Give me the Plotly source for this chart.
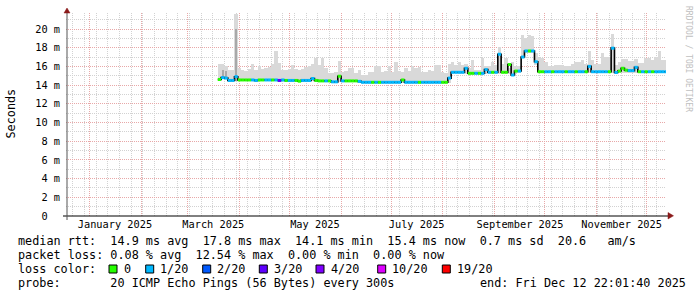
import plotly.graph_objects as go
import pandas as pd

# ---------------- data ----------------
range_start = "2024-12-17 22:01:40"
range_end = "2025-12-12 22:01:40"
first_sample = "2025-03-19 00:00"
sample_step_days = 2

median_ms = [
    14.6, 14.8, 14.75, 14.5, 14.5, 14.9, 14.55, 14.55, 14.55, 14.55,
    14.55, 14.5, 14.55, 14.55, 14.55, 14.55, 14.55, 14.55, 14.5, 14.55,
    14.5, 14.5, 14.5, 14.5, 14.42, 14.5, 14.5, 14.5, 14.7, 14.5,
    14.45, 14.45, 14.45, 14.45, 14.35, 14.35, 14.95, 14.45, 14.45, 14.45,
    14.45, 14.45, 14.4, 14.3, 14.3, 14.3, 14.3, 14.3, 14.3, 14.3,
    14.3, 14.3, 14.3, 14.3, 14.3, 14.55, 14.3, 14.3, 14.3, 14.3,
    14.3, 14.3, 14.3, 14.3, 14.3, 14.3, 14.3, 14.3, 14.3, 14.75,
    15.37, 15.37, 15.37, 15.37, 15.8, 15.26, 15.26, 15.26, 15.26, 15.26,
    15.65, 15.37, 15.37, 15.37, 17.3, 15.37, 15.37, 16.2, 15.08, 15.5,
    15.5, 17.0, 17.65, 17.65, 17.65, 16.5, 15.43, 15.43, 15.43, 15.43,
    15.43, 15.43, 15.43, 15.43, 15.43, 15.43, 15.43, 15.43, 15.43, 15.43,
    15.43, 16.0, 15.43, 15.43, 15.43, 15.43, 15.43, 15.43, 17.95, 15.35,
    15.5, 15.8, 15.6, 15.55, 15.55, 15.9, 15.43, 15.43, 15.43, 15.43,
    15.43, 15.43, 15.43, 15.43, 15.43,
]

smoke_top_ms = [
    16.3, 16.3, 16.0, 15.6, 15.6, 21.6, 15.8, 15.6, 15.5, 15.7,
    16.3, 15.6, 16.0, 15.7, 15.8, 15.9, 16.3, 17.6, 16.4, 15.6,
    15.6, 15.7, 16.1, 15.7, 15.6, 15.7, 15.9, 16.0, 16.3, 16.9,
    16.2, 16.9, 15.8, 15.3, 15.3, 15.4, 16.6, 15.4, 15.5, 15.8,
    15.8, 15.3, 15.6, 15.1, 15.1, 15.4, 15.4, 16.0, 16.0, 15.4,
    15.5, 16.0, 15.4, 16.5, 15.5, 15.4, 15.8, 15.5, 16.0, 15.8,
    15.9, 15.4, 15.4, 15.6, 15.5, 16.15, 16.1, 15.4, 15.3, 16.3,
    16.5, 16.2, 16.5, 16.2, 16.3, 15.8, 16.7, 15.6, 15.6, 16.9,
    16.0, 16.0, 16.5, 16.2, 18.1, 16.3, 16.9, 15.8, 16.5, 16.0,
    16.0, 19.4, 19.0, 19.4, 19.2, 17.4, 16.9, 16.9, 16.5, 16.0,
    16.0, 16.2, 16.2, 16.15, 16.0, 16.0, 16.3, 16.5, 16.5, 16.7,
    16.3, 17.6, 16.7, 16.3, 16.3, 17.4, 17.0, 17.0, 19.5, 16.15,
    16.5, 16.8, 16.8, 16.6, 16.6, 16.8, 16.4, 16.4, 16.9, 16.9,
    16.7, 17.0, 17.6, 16.7, 16.7,
]

smoke_low_ms = [
    14.45, 14.6, 14.6, 14.35, 14.35, 14.4, 14.4, 14.4, 14.4, 14.4,
    14.4, 14.35, 14.4, 14.4, 14.4, 14.4, 14.4, 14.4, 14.35, 14.4,
    14.35, 14.35, 14.35, 14.35, 14.3, 14.35, 14.35, 14.35, 14.4, 14.35,
    14.3, 14.3, 14.3, 14.3, 14.2, 14.2, 14.3, 14.3, 14.3, 14.3,
    14.3, 14.3, 14.25, 14.15, 14.15, 14.15, 14.15, 14.15, 14.15, 14.15,
    14.15, 14.15, 14.15, 14.15, 14.15, 14.2, 14.15, 14.15, 14.15, 14.15,
    14.15, 14.15, 14.15, 14.15, 14.15, 14.15, 14.15, 14.15, 14.15, 14.2,
    15.2, 15.2, 15.2, 15.2, 15.2, 15.1, 15.1, 15.1, 15.1, 15.1,
    15.2, 15.2, 15.2, 15.2, 15.2, 15.2, 15.2, 15.2, 14.95, 15.3,
    15.3, 17.0, 17.4, 17.4, 17.4, 16.2, 15.28, 15.28, 15.28, 15.28,
    15.28, 15.28, 15.28, 15.28, 15.28, 15.28, 15.28, 15.28, 15.28, 15.28,
    15.28, 15.3, 15.28, 15.28, 15.28, 15.28, 15.28, 15.28, 15.3, 15.2,
    15.3, 15.3, 15.3, 15.3, 15.3, 15.3, 15.28, 15.28, 15.28, 15.28,
    15.28, 15.28, 15.28, 15.28, 15.28,
]

# dense (darker) smoke core, only where it is clearly visible: {sample index: top ms}
smoke_core_top_ms = {5: 20.0, 1: 15.6, 2: 15.5}

loss_idx = [
    0, 1, 1, 1, 1, 1, 0, 0, 0, 0,
    1, 1, 0, 0, 1, 1, 0, 1, 3, 1,
    0, 1, 1, 0, 0, 1, 1, 1, 1, 0,
    0, 0, 1, 0, 1, 1, 0, 1, 0, 0,
    0, 0, 1, 1, 1, 1, 0, 1, 0, 1,
    1, 1, 1, 1, 1, 0, 1, 1, 1, 1,
    0, 1, 1, 1, 1, 1, 1, 0, 0, 1,
    1, 1, 1, 1, 1, 0, 0, 1, 0, 1,
    1, 1, 0, 1, 1, 0, 0, 0, 1, 0,
    1, 1, 1, 0, 1, 1, 0, 0, 1, 1,
    0, 1, 1, 1, 0, 1, 1, 0, 1, 1,
    0, 1, 1, 1, 1, 1, 1, 0, 1, 1,
    0, 0, 0, 1, 1, 1, 0, 1, 0, 1,
    0, 1, 1, 1, 1,
]

loss_labels = ["0", "1/20", "2/20", "3/20", "4/20", "10/20", "19/20"]
loss_colors = ["#26ff00", "#00b8ff", "#0059ff", "#5e00ff", "#7e00ff", "#dd00ff", "#ff0000"]

y_tick_values_ms = [0, 2, 4, 6, 8, 10, 12, 14, 16, 18, 20]
x_label_texts = ["January 2025", "March 2025", "May 2025", "July 2025",
                 "September 2025", "November 2025"]
x_label_months = ["2025-01-01", "2025-03-01", "2025-05-01", "2025-07-01",
                  "2025-09-01", "2025-11-01"]

legend_line1 = "median rtt:  14.9 ms avg  17.8 ms max  14.1 ms min  15.4 ms now  0.7 ms sd  20.6   am/s"
legend_line2 = "packet loss: 0.08 % avg  12.54 % max  0.00 % min  0.00 % now"
legend_line3 = "loss color:"
legend_line4 = "probe:       20 ICMP Echo Pings (56 Bytes) every 300s"
legend_end = "end: Fri Dec 12 22:01:40 2025"

# ---------------- layout geometry ----------------
W, H = 697, 297
PL, PR, PT, PB = 66, 666, 13, 216   # plot area in pixels
Y_TOP_MS = (PB - PT) / 9.35         # ~21.7 ms at top

MONO = "DejaVu Sans Mono"
NB = "\u00a0"


def nb(s):
    return s.replace(" ", NB)


def px(x):
    return (x - PL) / (PR - PL)


def py(y):
    return (PB - y) / (PB - PT)


t0 = pd.Timestamp(range_start)
t1 = pd.Timestamp(range_end)
n = len(median_ms)
times = pd.date_range(first_sample, periods=n, freq=f"{sample_step_days}D")
step = pd.Timedelta(days=sample_step_days)
med = [v / 1000 for v in median_ms]

fig = go.Figure()

# smoke (outer, light)
fig.add_trace(go.Bar(
    x=[t + step / 2 for t in times],
    y=[(h - l) / 1000 for h, l in zip(smoke_top_ms, smoke_low_ms)],
    base=[l / 1000 for l in smoke_low_ms],
    width=[step.total_seconds() * 1000] * n,
    marker=dict(color="#d9d9d9", line=dict(width=0)),
    hoverinfo="skip", showlegend=False,
))

# smoke core (dense, darker)
core_idx = sorted(smoke_core_top_ms)
fig.add_trace(go.Bar(
    x=[times[i] + step / 2 for i in core_idx],
    y=[(smoke_core_top_ms[i] - smoke_low_ms[i]) / 1000 for i in core_idx],
    base=[smoke_low_ms[i] / 1000 for i in core_idx],
    width=[step.total_seconds() * 1000 * 0.6] * len(core_idx),
    marker=dict(color="#a8a8a8", line=dict(width=0)),
    hoverinfo="skip", showlegend=False,
))

# black median step line
fig.add_trace(go.Scatter(
    x=list(times) + [min(times[-1] + step, t1)],
    y=med + [med[-1]],
    mode="lines", line=dict(color="#000000", width=1.6, shape="hv"),
    hoverinfo="skip", showlegend=False,
))

# loss-coloured median segments
for k, col in enumerate(loss_colors):
    xs, ys = [], []
    for i in range(n):
        if loss_idx[i] == k:
            xs += [times[i], min(times[i] + step, t1), None]
            ys += [med[i], med[i], None]
    if xs:
        fig.add_trace(go.Scatter(
            x=xs, y=ys, mode="lines", line=dict(color=col, width=3),
            hoverinfo="skip", showlegend=False,
        ))

major_grid = "#e8a8a8"
minor_grid = "#d2d2d2"
dash = "1px,1px"

fig.update_layout(
    width=W, height=H,
    margin=dict(l=PL, r=W - PR, t=PT, b=H - PB),
    paper_bgcolor="white", plot_bgcolor="white",
    bargap=0, barmode="overlay", showlegend=False,
    font=dict(family=MONO, color="#000000"),
    xaxis=dict(
        type="date", range=[t0, t1],
        tickmode="array",
        tickvals=[pd.Timestamp(f"2025-{m:02d}-01") for m in range(1, 13)],
        ticktext=[""] * 12, showticklabels=False, ticks="",
        showgrid=True, gridcolor=major_grid, griddash=dash, gridwidth=1,
        minor=dict(tickmode="linear", tick0="2024-12-22", dtick=7 * 86400000,
                   showgrid=True, gridcolor=minor_grid, griddash=dash, gridwidth=1,
                   ticks=""),
        zeroline=False, showline=False, fixedrange=True,
    ),
    xaxis2=dict(
        type="date", range=[t0, t1], overlaying="x", side="bottom",
        tickmode="array",
        tickvals=[pd.Timestamp(m) + pd.Timedelta(days=15.3) for m in x_label_months],
        ticktext=x_label_texts, ticks="", showgrid=False, zeroline=False,
        tickfont=dict(family=MONO, size=10.3, color="#000000"),
        ticklabelstandoff=1,
    ),
    yaxis=dict(
        range=[0, Y_TOP_MS / 1000],
        tickmode="array",
        tickvals=[v / 1000 for v in y_tick_values_ms],
        ticktext=[("0" + NB + NB) if v == 0 else f"{v}{NB}m" for v in y_tick_values_ms],
        tickfont=dict(family=MONO, size=10.3, color="#000000"),
        ticks="", ticklabelstandoff=5,
        showgrid=True, gridcolor=major_grid, griddash=dash, gridwidth=1,
        minor=dict(dtick=0.001, tick0=0, showgrid=True, gridcolor=minor_grid,
                   griddash=dash, gridwidth=1, ticks=""),
        zeroline=False, showline=False, fixedrange=True,
    ),
)

# dummy trace for xaxis2 so it renders
fig.add_trace(go.Scatter(x=[t0], y=[None], xaxis="x2", mode="markers",
                         hoverinfo="skip", showlegend=False))

shapes = []
axis_col = "#555555"
arrow_col = "#8b1a1a"
# axis lines
shapes.append(dict(type="line", xref="paper", yref="paper",
                   x0=px(63), x1=px(669), y0=py(216), y1=py(216),
                   line=dict(color="#000000", width=1)))
shapes.append(dict(type="line", xref="paper", yref="paper",
                   x0=px(67), x1=px(67), y0=py(220), y1=py(11),
                   line=dict(color=axis_col, width=1)))
# arrows
shapes.append(dict(type="path", xref="paper", yref="paper",
                   path=f"M {px(64)} {py(13)} L {px(70)} {py(13)} L {px(67)} {py(8)} Z",
                   fillcolor=arrow_col, line=dict(color=arrow_col, width=0.5)))
shapes.append(dict(type="path", xref="paper", yref="paper",
                   path=f"M {px(668)} {py(212.5)} L {px(668)} {py(219)} L {px(673.5)} {py(215.8)} Z",
                   fillcolor=arrow_col, line=dict(color=arrow_col, width=0.5)))

annotations = []
LEG_FS = 11.8
LEG_X = 16
line_y = [241, 255, 269, 283]
for txt, yy in [(legend_line1, line_y[0]), (legend_line2, line_y[1]),
                (legend_line3, line_y[2]), (legend_line4, line_y[3])]:
    annotations.append(dict(xref="paper", yref="paper", x=px(LEG_X), y=py(yy),
                            xanchor="left", yanchor="middle", showarrow=False,
                            text=nb(txt), font=dict(family=MONO, size=LEG_FS, color="#000000")))
annotations.append(dict(xref="paper", yref="paper", x=px(477.5), y=py(line_y[3]),
                        xanchor="left", yanchor="middle", showarrow=False,
                        text=nb(legend_end), font=dict(family=MONO, size=LEG_FS, color="#000000")))

# loss colour boxes
box_x = [109, 145.7, 202.7, 259.3, 316, 377.7, 442.3]
for bx, lab, col in zip(box_x, loss_labels, loss_colors):
    shapes.append(dict(type="rect", xref="paper", yref="paper",
                       x0=px(bx), x1=px(bx + 8), y0=py(265), y1=py(273),
                       fillcolor=col, line=dict(color="#000000", width=1)))
    annotations.append(dict(xref="paper", yref="paper", x=px(bx + 12.5), y=py(line_y[2]),
                            xanchor="left", yanchor="middle", showarrow=False,
                            text=nb(lab), font=dict(family=MONO, size=LEG_FS, color="#000000")))

# y-axis title
annotations.append(dict(xref="paper", yref="paper", x=px(10.5), y=py(114),
                        xanchor="center", yanchor="middle", showarrow=False,
                        textangle=-90, text="Seconds",
                        font=dict(family=MONO, size=LEG_FS, color="#000000")))
# watermark
annotations.append(dict(xref="paper", yref="paper", x=px(688), y=py(59),
                        xanchor="center", yanchor="middle", showarrow=False,
                        textangle=90, text=nb("RRDTOOL / TOBI OETIKER"),
                        font=dict(family=MONO, size=8, color="#c0c0c0")))

fig.update_layout(shapes=shapes, annotations=annotations)
fig.write_html("out.html")
